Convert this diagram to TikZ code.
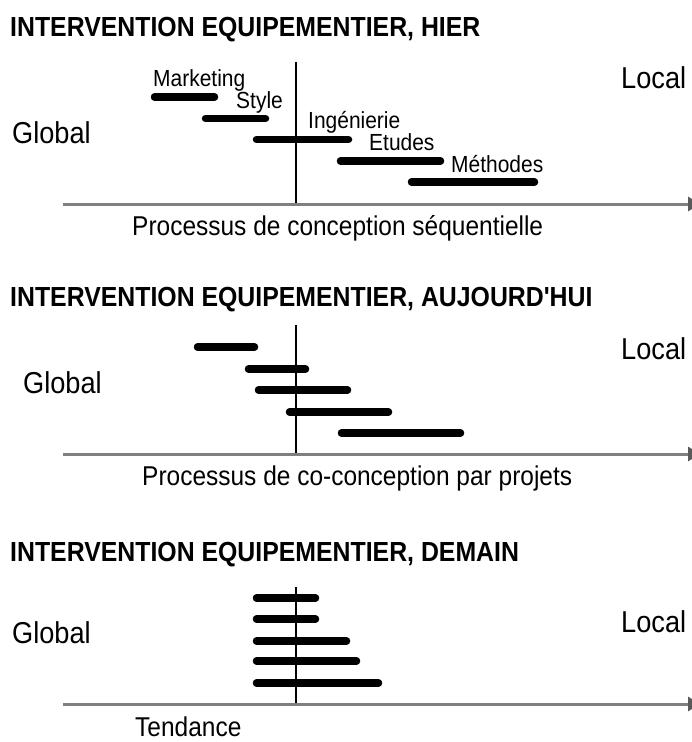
\documentclass[tikz,border=0pt]{standalone}
\usepackage{fontspec}
\setmainfont{Liberation Sans}[Ligatures=TeXOff, FakeStretch=0.9]
\usetikzlibrary{arrows.meta}
\definecolor{axisgray}{HTML}{808080}
\definecolor{tipgray}{HTML}{5A5A5A}
\tikzset{
  titletext/.style={anchor=base west, inner sep=0pt, font=\fontsize{27.6}{32}\selectfont\bfseries},
  sidetext/.style={anchor=base west, inner sep=0pt, font=\fontsize{30.2}{35}\selectfont},
  labeltext/.style={anchor=base west, inner sep=0pt, font=\fontsize{23.3}{27}\selectfont},
  captext/.style={anchor=base west, inner sep=0pt, font=\fontsize{27.2}{32}\selectfont},
  bar/.style={line width=7.5pt, line cap=round, black},
  vline/.style={line width=1.2pt, black},
  axisline/.style={line width=3pt, axisgray, -{Triangle[length=12pt,width=14pt,fill=tipgray,color=tipgray]}}
}
\begin{document}
\begin{tikzpicture}[x=1pt,y=-1pt]
\useasboundingbox (0,0) rectangle (692,742);

% ---------- Panel 1 ----------
\node[titletext] (t1) at (10,36) {INTERVENTION EQUIPEMENTIER, HIER};
\coordinate (v1top) at (296,62);
\coordinate (v1bot) at (296,204);
\draw[vline] (v1top) -- (v1bot);
\draw[bar] (154.5,97) -- (214.5,97);
\draw[bar] (205.5,118.5) -- (265.5,118.5);
\draw[bar] (256.5,139.5) -- (348.5,139.5);
\draw[bar] (340.5,161) -- (440.5,161);
\draw[bar] (411.5,182) -- (534.5,182);
\coordinate (a1s) at (63,204);
\coordinate (a1e) at (700,204);
\draw[axisline] (a1s) -- (a1e);
\node[sidetext] (g1) at (12,143) {Global};
\node[sidetext] (l1) at (621,88) {Local};
\node[labeltext] (mk) at (153,86) {Marketing};
\node[labeltext] (st) at (236,108) {Style};
\node[labeltext] (ing) at (308,128.5) {Ingénierie};
\node[labeltext] (et) at (369,150) {Etudes};
\node[labeltext] (me) at (451,172) {Méthodes};
\node[captext] (c1) at (132,235) {Processus de conception séquentielle};

% ---------- Panel 2 ----------
\node[titletext] (t2) at (10,306) {INTERVENTION EQUIPEMENTIER, AUJOURD'HUI};
\coordinate (v2top) at (296,325);
\coordinate (v2bot) at (296,454);
\draw[vline] (v2top) -- (v2bot);
\draw[bar] (197.5,347) -- (254.5,347);
\draw[bar] (248.5,369) -- (305.5,369);
\draw[bar] (258.5,390) -- (347.5,390);
\draw[bar] (289.5,412) -- (388.5,412);
\draw[bar] (341.5,433) -- (460.5,433);
\coordinate (a2s) at (63,454);
\coordinate (a2e) at (700,454);
\draw[axisline] (a2s) -- (a2e);
\node[sidetext] (g2) at (23,393) {Global};
\node[sidetext] (l2) at (621,359) {Local};
\node[captext] (c2) at (142,485) {Processus de co-conception par projets};

% ---------- Panel 3 ----------
\node[titletext] (t3) at (10,561) {INTERVENTION EQUIPEMENTIER, DEMAIN};
\coordinate (v3top) at (296,587);
\coordinate (v3bot) at (296,704);
\draw[vline] (v3top) -- (v3bot);
\draw[bar] (256.5,598) -- (315.5,598);
\draw[bar] (256.5,619) -- (315.5,619);
\draw[bar] (256.5,641) -- (346.5,641);
\draw[bar] (256.5,661) -- (356.5,661);
\draw[bar] (256.5,683) -- (378.5,683);
\coordinate (a3s) at (63,704);
\coordinate (a3e) at (700,704);
\draw[axisline] (a3s) -- (a3e);
\node[sidetext] (g3) at (12,643) {Global};
\node[sidetext] (l3) at (621,632) {Local};
\node[captext, text depth=0pt] (c3) at (135,736) {Tendance};
\end{tikzpicture}
\end{document}
